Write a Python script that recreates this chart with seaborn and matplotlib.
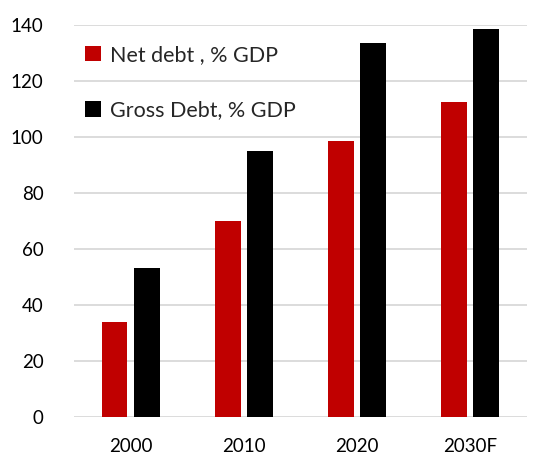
import matplotlib
matplotlib.use("Agg")
import matplotlib.pyplot as plt
import seaborn as sns
import pandas as pd

years = ["2000", "2010", "2020", "2030F"]
net_debt = [34, 70, 98.3, 112.4]
gross_debt = [53, 95, 133.5, 138.5]
series_names = ["Net debt , % GDP", "Gross Debt, % GDP"]
y_ticks = [0, 20, 40, 60, 80, 100, 120, 140]

df = pd.DataFrame({
    "year": years * 2,
    "value": net_debt + gross_debt,
    "series": [series_names[0]] * len(years) + [series_names[1]] * len(years),
})

sns.set_theme(style="white")
plt.rcParams["font.family"] = ["Lato", "DejaVu Sans"]

fig = plt.figure(figsize=(5.34, 4.57), dpi=100)
ax = fig.add_axes([0.1386, 0.088, 0.848, 0.858])

sns.barplot(
    data=df, x="year", y="value", hue="series", ax=ax,
    palette={series_names[0]: "#C00000", series_names[1]: "#000000"},
    width=0.568, gap=0.2, saturation=1.0, edgecolor="none",
)

ax.set_ylim(0, 140)
ax.set_xlim(-0.5, len(years) - 0.5)
ax.set_yticks(y_ticks)
ax.yaxis.grid(True, color="#D9D9D9", linewidth=1.3)
ax.set_axisbelow(True)
for s in ax.spines.values():
    s.set_visible(False)
ax.set_xlabel("")
ax.set_ylabel("")
ax.tick_params(axis="y", length=0, pad=22, labelsize=13.5, labelcolor="#000000")
ax.tick_params(axis="x", length=0, pad=15, labelsize=13.5, labelcolor="#000000")

leg = ax.legend(
    loc="upper left", bbox_to_anchor=(0.005, 0.97), frameon=False,
    fontsize=15.5, handlelength=0.75, handleheight=0.75, handletextpad=0.4,
    labelspacing=1.65, borderaxespad=0,
)

fig.savefig("out.png", dpi=100)
